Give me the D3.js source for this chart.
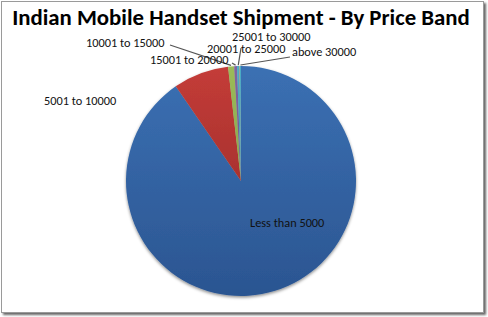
<!DOCTYPE html>
<html>
<head>
<meta charset="utf-8">
<script src="https://cdn.jsdelivr.net/npm/d3@7"></script>
<style>
  body { margin: 0; background: #fff; }
  text { font-family: Carlito, Lato, sans-serif; }
</style>
</head>
<body>
<div id="chart"></div>
<script>
// data
var bands = ["Less than 5000", "5001 to 10000", "10001 to 15000", "15001 to 20000",
             "20001 to 25000", "25001 to 30000", "above 30000"];
var shares = [90.4, 7.8, 0.85, 0.4, 0.35, 0.05, 0.15];
var title = "Indian Mobile Handset Shipment - By Price Band";

var colors = [
  ["#3b70b3", "#2b5591"],
  ["#c43c38", "#8e2825"],
  ["#9bbb59", "#76923f"],
  ["#8064a2", "#5f4a7a"],
  ["#4bacc6", "#31849b"],
  ["#f79646", "#c0732f"],
  ["#4bacc6", "#31849b"]
];

// label layout: [text x, baseline y, leader start x, leader start y] (null = no leader)
var labelPos = [
  [250, 227, null, null],
  [44, 105, null, null],
  [86, 47, 170, 45],
  [150, 64, 232, 63],
  [207, 53, 241, 48],
  [232, 41, null, null],
  [292, 56, 290, 57]
];

var W = 488, H = 317;
var cx = 241, cy = 181, r = 115;

var svg = d3.select("#chart").append("svg")
    .attr("width", W).attr("height", H);

var defs = svg.append("defs");
var sh = defs.append("filter").attr("id", "shadow").attr("x", "-20%").attr("y", "-20%")
    .attr("width", "140%").attr("height", "140%");
sh.append("feDropShadow").attr("dx", 0).attr("dy", 1.5).attr("stdDeviation", 1.5)
    .attr("flood-color", "#000").attr("flood-opacity", 0.45);
var fs = defs.append("filter").attr("id", "fshadow");
fs.append("feDropShadow").attr("dx", 2).attr("dy", 2).attr("stdDeviation", 1)
    .attr("flood-color", "#000").attr("flood-opacity", 0.6);

colors.forEach(function(c, i) {
  var g = defs.append("linearGradient").attr("id", "grad" + i)
      .attr("gradientUnits", "userSpaceOnUse")
      .attr("x1", 0).attr("y1", -r).attr("x2", 0).attr("y2", r);
  g.append("stop").attr("offset", "0%").attr("stop-color", c[0]);
  g.append("stop").attr("offset", "100%").attr("stop-color", c[1]);
});

// frame
svg.append("rect")
    .attr("x", 1.5).attr("y", 1.5).attr("width", 482).attr("height", 311)
    .attr("fill", "#fff").attr("stroke", "#9a9a9a").attr("stroke-width", 1)
    .attr("filter", "url(#fshadow)");

svg.append("text")
    .attr("x", 241).attr("y", 25)
    .attr("text-anchor", "middle")
    .style("font-size", "22.8px").style("font-weight", "bold")
    .attr("fill", "#000")
    .text(title);

var pie = d3.pie().sort(null).value(function(d) { return d; });
var arc = d3.arc().innerRadius(0).outerRadius(r);
var arcs = pie(shares);

var g = svg.append("g").attr("transform", "translate(" + cx + "," + cy + ")");

g.append("g").attr("filter", "url(#shadow)")
  .selectAll("path")
  .data(arcs)
  .enter()
  .append("path")
    .attr("d", arc)
    .attr("fill", function(d, i) { return "url(#grad" + i + ")"; });

// leader lines
arcs.forEach(function(d, i) {
  var p = labelPos[i];
  if (p[2] === null) return;
  var a = (d.startAngle + d.endAngle) / 2;
  var ex = cx + Math.sin(a) * (r + 1), ey = cy - Math.cos(a) * (r + 1);
  svg.append("line")
      .attr("x1", p[2]).attr("y1", p[3])
      .attr("x2", ex).attr("y2", ey)
      .attr("stroke", "#555").attr("stroke-width", 1.2);
});

svg.selectAll(".lbl")
  .data(bands)
  .enter()
  .append("text")
    .attr("class", "lbl")
    .attr("x", function(d, i) { return labelPos[i][0]; })
    .attr("y", function(d, i) { return labelPos[i][1]; })
    .style("font-size", "12.3px")
    .attr("fill", "#111")
    .text(function(d) { return d; });
</script>
</body>
</html>
